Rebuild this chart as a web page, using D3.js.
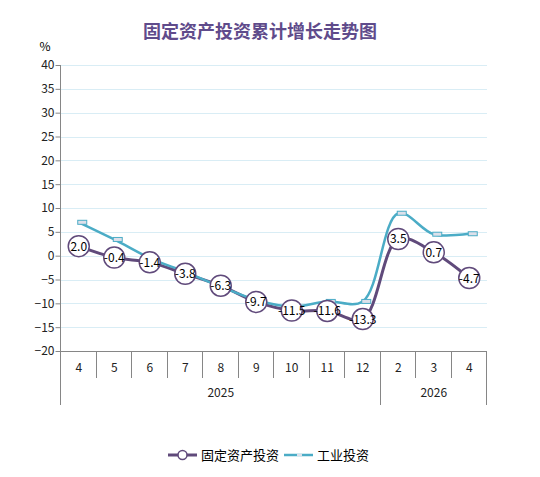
<!DOCTYPE html>
<html>
<head>
<meta charset="utf-8">
<script src="https://cdn.jsdelivr.net/npm/d3@7"></script>
<style>
    body { margin: 0; background: #fff; }
    text { font-family: "Noto Sans CJK SC", "Noto Sans", sans-serif; }
</style>
</head>
<body>
<div id="chart"></div>
<script>
var months = ["4", "5", "6", "7", "8", "9", "10", "11", "12", "2", "3", "4"];
var years = [
    {label: "2025", from: 0, to: 9},
    {label: "2026", from: 9, to: 12}
];
var fixedInvest = [2.0, -0.4, -1.4, -3.8, -6.3, -9.7, -11.5, -11.6, -13.3, 3.5, 0.7, -4.7];
var industryInvest = [7.0, 3.4, -0.5, -3.4, -6.5, -9.3, -10.7, -9.6, -9.6, 8.9, 4.5, 4.6];
var yTicks = [40, 35, 30, 25, 20, 15, 10, 5, 0, -5, -10, -15, -20];

(function () {
    "use strict";
    var width = 540, height = 477,
        purple = "#604a7b", cyan = "#4bacc6",
        plot = {left: 61, right: 487, top: 65, bottom: 351},
        svg, x, y, line, idx;

    svg = d3.select("#chart").append("svg")
        .attr("width", width)
        .attr("height", height);

    idx = d3.range(months.length);

    x = d3.scaleBand()
        .domain(idx)
        .range([plot.left, plot.right]);

    y = d3.scaleLinear()
        .domain([-20, 40])
        .range([plot.bottom, plot.top]);

    // title
    svg.append("text")
        .attr("x", 260)
        .attr("y", 38)
        .attr("text-anchor", "middle")
        .style("font-size", "18px")
        .style("font-weight", "bold")
        .style("fill", "#5f4b8b")
        .text("固定资产投资累计增长走势图");

    svg.append("text")
        .attr("x", 45)
        .attr("y", 51)
        .attr("text-anchor", "middle")
        .style("font-size", "12px")
        .text("%");

    // gridlines
    svg.append("g").selectAll("line").data(yTicks.filter(function (d) { return d !== -20; }))
        .enter().append("line")
        .attr("x1", plot.left)
        .attr("x2", plot.right)
        .attr("y1", function (d) { return Math.round(y(d)) + 0.5; })
        .attr("y2", function (d) { return Math.round(y(d)) + 0.5; })
        .style("stroke", "#d9edf5")
        .style("stroke-width", 1);

    // y axis
    var yAxis = svg.append("g")
        .attr("transform", "translate(" + (plot.left - 0.5) + ",0)")
        .call(d3.axisLeft(y).tickValues(yTicks).tickSize(5).tickSizeOuter(0));
    yAxis.select(".domain").remove();
    yAxis.selectAll("line").style("stroke", "#868686");
    yAxis.selectAll("text")
        .attr("x", -6)
        .style("font-size", "12px")
        .style("fill", "#222");

    // axis lines
    var axisColor = "#868686";
    svg.append("line")
        .attr("x1", plot.left - 0.5).attr("x2", plot.left - 0.5)
        .attr("y1", plot.top).attr("y2", 405)
        .style("stroke", axisColor);
    svg.append("line")
        .attr("x1", plot.left - 0.5).attr("x2", plot.right)
        .attr("y1", plot.bottom + 0.5).attr("y2", plot.bottom + 0.5)
        .style("stroke", axisColor);

    // month separators
    svg.append("g").selectAll("line").data(d3.range(1, months.length + 1))
        .enter().append("line")
        .attr("x1", function (i) { return Math.round(plot.left + i * x.bandwidth()) - 0.5; })
        .attr("x2", function (i) { return Math.round(plot.left + i * x.bandwidth()) - 0.5; })
        .attr("y1", plot.bottom)
        .attr("y2", function (i) {
            var isYearEdge = years.some(function (yr) { return yr.to === i; });
            return isYearEdge ? 405 : 378;
        })
        .style("stroke", axisColor);

    svg.append("g").selectAll("text").data(months)
        .enter().append("text")
        .attr("x", function (d, i) { return x(i) + x.bandwidth() / 2; })
        .attr("y", 372)
        .attr("text-anchor", "middle")
        .style("font-size", "12px")
        .style("fill", "#222")
        .text(function (d) { return d; });

    svg.append("g").selectAll("text").data(years)
        .enter().append("text")
        .attr("x", function (d) { return plot.left + (d.from + d.to) / 2 * x.bandwidth(); })
        .attr("y", 397)
        .attr("text-anchor", "middle")
        .style("font-size", "12px")
        .style("fill", "#222")
        .text(function (d) { return d.label; });

    function cx(i) {
        return x(i) + x.bandwidth() / 2;
    }

    line = d3.line()
        .x(function (d, i) { return cx(i); })
        .y(function (d) { return y(d); })
        .curve(d3.curveCatmullRom.alpha(0.5));

    // fixed asset line
    svg.append("path")
        .datum(fixedInvest)
        .attr("d", line)
        .style("fill", "none")
        .style("stroke", purple)
        .style("stroke-width", 3);

    // industry line
    svg.append("path")
        .datum(industryInvest)
        .attr("d", line)
        .style("fill", "none")
        .style("stroke", cyan)
        .style("stroke-width", 2.5);

    svg.append("g").selectAll("rect").data(industryInvest)
        .enter().append("rect")
        .attr("x", function (d, i) { return cx(i) - 1; })
        .attr("y", function (d) { return y(d) - 2; })
        .attr("width", 9)
        .attr("height", 4)
        .style("fill", "#dde0ea")
        .style("stroke", cyan)
        .style("stroke-width", 1);

    var pts = svg.append("g").selectAll("g").data(fixedInvest)
        .enter().append("g")
        .attr("transform", function (d, i) { return "translate(" + cx(i) + "," + y(d) + ")"; });

    pts.append("circle")
        .attr("r", 10.5)
        .style("fill", "#fff")
        .style("stroke", purple)
        .style("stroke-width", 1.5);

    pts.append("text")
        .attr("y", 4.5)
        .attr("text-anchor", "middle")
        .style("font-size", "12px")
        .style("fill", "#000")
        .text(function (d) { return d.toFixed(1); });

    // legend
    var lg = svg.append("g");
    lg.append("line")
        .attr("x1", 168).attr("x2", 197)
        .attr("y1", 455).attr("y2", 455)
        .style("stroke", purple).style("stroke-width", 3);
    lg.append("circle")
        .attr("cx", 182.5).attr("cy", 455).attr("r", 4.5)
        .style("fill", "#fff").style("stroke", purple).style("stroke-width", 1.5);
    lg.append("text")
        .attr("x", 201).attr("y", 460)
        .style("font-size", "13px")
        .text("固定资产投资");
    lg.append("line")
        .attr("x1", 284).attr("x2", 313)
        .attr("y1", 455).attr("y2", 455)
        .style("stroke", cyan).style("stroke-width", 2.5);
    lg.append("rect")
        .attr("x", 297).attr("y", 454).attr("width", 5).attr("height", 2)
        .style("fill", "#dde0ea");
    lg.append("text")
        .attr("x", 317).attr("y", 460)
        .style("font-size", "13px")
        .text("工业投资");
}());
</script>
</body>
</html>
